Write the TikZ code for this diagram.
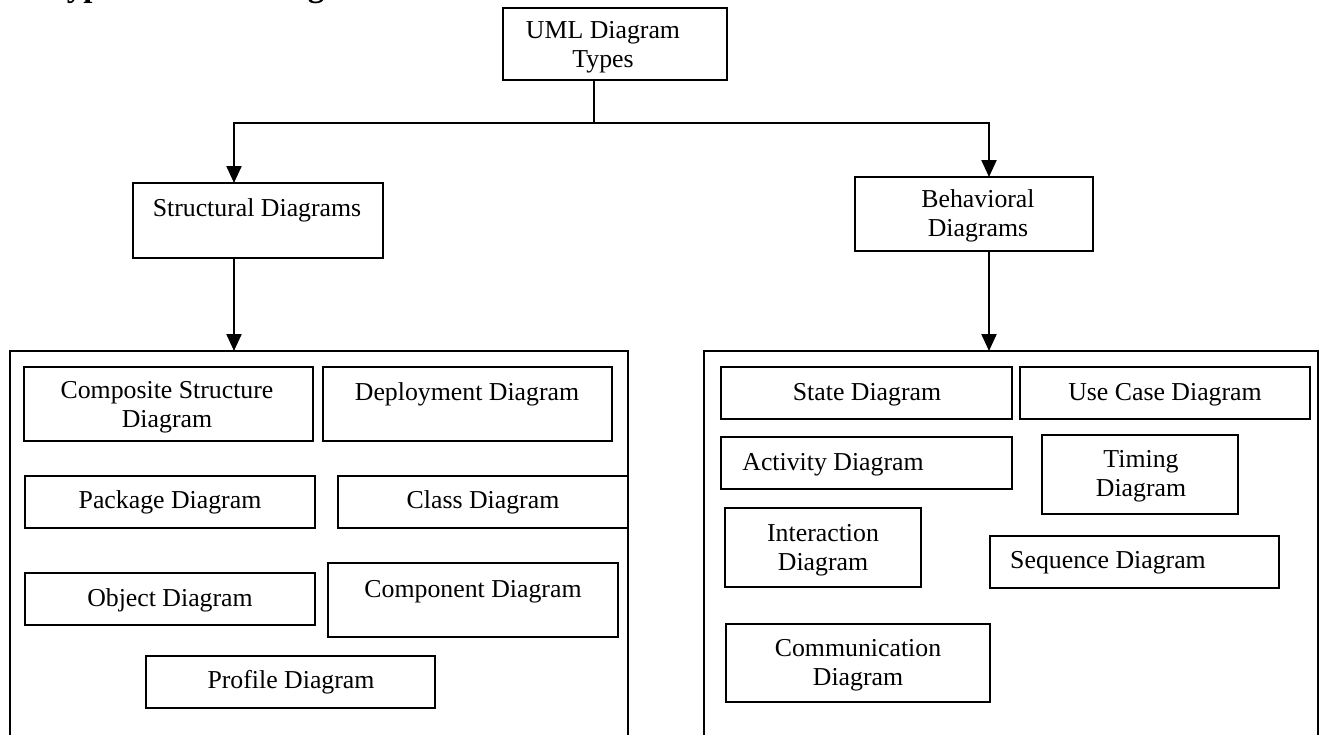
\documentclass[tikz,border=0pt]{standalone}
\usepackage{fontspec}
\setmainfont{Liberation Serif}
\usetikzlibrary{arrows.meta}

% two centred lines whose first baseline is the baseline of the whole block
\newcommand\twoline[2]{\begin{tabular}[t]{@{}c@{}}#1\\#2\end{tabular}}

% \umlbox{name}{x1}{y1}{x2}{y2}: an empty framed rectangle between two corners
\newcommand\umlbox[5]{%
  \node[umlframe, minimum width={#4-#2}, minimum height={#5-#3}]
    (#1) at ({(#2+#4)/2},{(#3+#5)/2}) {};}

\tikzset{
  umlframe/.style={draw=black, line width=1.5pt, inner sep=0pt, outer sep=0pt, fill=none},
  lbl/.style={anchor=base, inner sep=0pt, text=black,
              font=\fontsize{25.8}{29.5}\selectfont},
  link/.style={draw=black, line width=2.2pt},
  arrowlink/.style={link, -{Triangle[length=17pt,width=15pt]}},
}

\begin{document}
\begin{tikzpicture}[x=1pt, y=-1pt]
\useasboundingbox (0,0) rectangle (1323,734);
\clip (0,0) rectangle (1323,734);
\fill[white] (0,0) rectangle (1323,734);

% heading of the page, running off the top edge
\node[anchor=base west, inner sep=0pt, font=\bfseries\fontsize{33}{38}\selectfont]
  (heading) at (47,-4) {Types of UML Diagrams};

% root and the two families
\umlbox{types}{503}{8}{727}{80}
\node[lbl] (types-t) at (603,38) {\twoline{UML Diagram}{Types}};

\umlbox{struct}{133}{183}{383}{258}
\node[lbl] (struct-t) at (257,216) {Structural Diagrams};

\umlbox{behav}{855}{177}{1093}{251}
\node[lbl] (behav-t) at (978,207) {\twoline{Behavioral}{Diagrams}};

% the two panels, open at the bottom edge
\umlbox{spanel}{10}{351}{628}{790}
\umlbox{bpanel}{704}{351}{1318}{790}

% structural diagrams
\umlbox{comp}{24}{367}{313}{441}
\node[lbl] (comp-t) at (167,398) {\twoline{Composite Structure}{Diagram}};
\umlbox{depl}{323}{367}{612}{441}
\node[lbl] (depl-t) at (467,400) {Deployment Diagram};
\umlbox{pack}{25}{476}{315}{528}
\node[lbl] (pack-t) at (170,508) {Package Diagram};
\umlbox{class}{338}{476}{628}{528}
\node[lbl] (class-t) at (483,508) {Class Diagram};
\umlbox{obj}{25}{573}{315}{625}
\node[lbl] (obj-t) at (170,606) {Object Diagram};
\umlbox{compo}{328}{563}{618}{637}
\node[lbl] (compo-t) at (473,597) {Component Diagram};
\umlbox{prof}{146}{656}{435}{708}
\node[lbl] (prof-t) at (291,688) {Profile Diagram};

% behavioral diagrams
\umlbox{state}{721}{367}{1012}{419}
\node[lbl] (state-t) at (867,400) {State Diagram};
\umlbox{usecase}{1020}{367}{1310}{419}
\node[lbl] (usecase-t) at (1165,400) {Use Case Diagram};
\umlbox{act}{721}{437}{1012}{489}
\node[lbl] (act-t) at (833,470) {Activity Diagram};
\umlbox{timing}{1042}{435}{1238}{514}
\node[lbl] (timing-t) at (1141,467) {\twoline{Timing}{Diagram}};
\umlbox{inter}{725}{508}{921}{587}
\node[lbl] (inter-t) at (823,541) {\twoline{Interaction}{Diagram}};
\umlbox{seq}{990}{536}{1279}{588}
\node[lbl] (seq-t) at (1108,568) {Sequence Diagram};
\umlbox{commu}{726}{624}{990}{702}
\node[lbl] (commu-t) at (858,656) {\twoline{Communication}{Diagram}};

% connectors
\coordinate (fork) at (594,123);
\coordinate (lx) at (234,123);
\coordinate (rx) at (989,123);
\draw[link] (fork |- types.south) -- (fork);
\draw[arrowlink] (fork) -| (lx |- struct.north);
\draw[arrowlink] (fork) -| (rx |- behav.north);
\draw[arrowlink] (lx |- struct.south) -- (lx |- spanel.north);
\draw[arrowlink] (rx |- behav.south) -- (rx |- bpanel.north);
\end{tikzpicture}
\end{document}
